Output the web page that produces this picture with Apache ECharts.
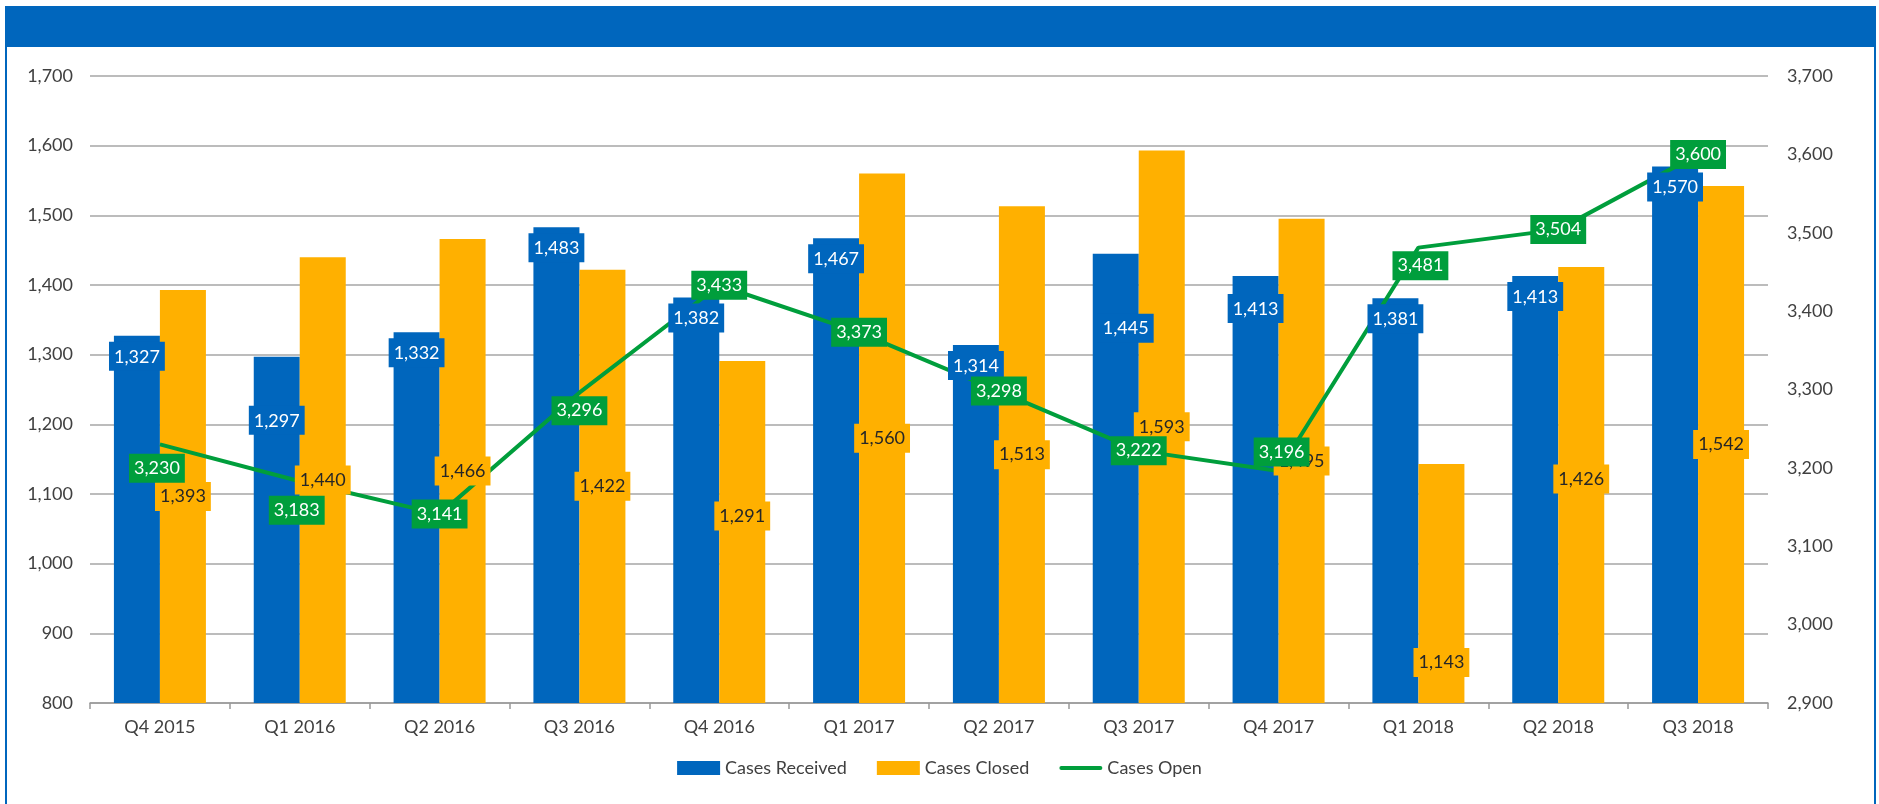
<!DOCTYPE html>
<html>
<head>
<meta charset="utf-8">
<script src="https://cdn.jsdelivr.net/npm/echarts@6/dist/echarts.min.js"></script>
<style>
html,body{margin:0;padding:0;background:#fff;}
#chart{width:1879px;height:804px;}
</style>
</head>
<body>
<div id="chart"></div>
<script>
const categories = ['Q4 2015','Q1 2016','Q2 2016','Q3 2016','Q4 2016','Q1 2017','Q2 2017','Q3 2017','Q4 2017','Q1 2018','Q2 2018','Q3 2018'];
const casesReceived = [1327, 1297, 1332, 1483, 1382, 1467, 1314, 1445, 1413, 1381, 1413, 1570];
const casesClosed = [1393, 1440, 1466, 1422, 1291, 1560, 1513, 1593, 1495, 1143, 1426, 1542];
const casesOpen = [3230, 3183, 3141, 3296, 3433, 3373, 3298, 3222, 3196, 3481, 3504, 3600];
const leftTicks = {min: 800, max: 1700, interval: 100};
const rightTicks = {min: 2900, max: 3700, interval: 100};

// label nudges (pixels) as placed in the original
const receivedShift = {1: [0, 43], 7: [10, 54], 8: [0, 12]};
const closedShift = {4: [0, -16], 9: [0, 79], 10: [0, -6]};
const openShift = {0: [-3, 24], 1: [-3, 29], 3: [0, 18], 8: [3, -19], 9: [2, 18]};

const BLUE = '#0066BD', YELLOW = '#FFB000', GREEN = '#009E3C';
const CLEAR = 'rgba(0,0,0,0)';
const FONT = 'Lato, "Open Sans", sans-serif';
const fmt = v => Number(v).toLocaleString('en-US');

function withShift(values, shifts) {
  return values.map((v, i) => shifts[i] ? {value: v, label: {offset: shifts[i]}} : v);
}

const labelBase = {
  show: true,
  fontFamily: FONT,
  fontSize: 18,
  lineHeight: 18,
  padding: [6, 5, 5, 5],
  formatter: p => fmt(p.value)
};

const chart = echarts.init(document.getElementById('chart'));
chart.setOption({
  animation: false,
  backgroundColor: '#fff',
  textStyle: {fontFamily: FONT},
  graphic: [
    {type: 'rect', shape: {x: 6, y: 6, width: 1870, height: 41}, style: {fill: BLUE}, z: 100},
    {type: 'rect', shape: {x: 5, y: 6, width: 2, height: 798}, style: {fill: BLUE}, z: 100},
    {type: 'rect', shape: {x: 1874, y: 6, width: 2, height: 798}, style: {fill: BLUE}, z: 100}
  ],
  grid: {left: 90, right: 111, top: 76, bottom: 101, containLabel: false},
  legend: {
    bottom: 22,
    left: 'center',
    itemWidth: 43,
    itemHeight: 14,
    itemGap: 30,
    textStyle: {fontFamily: FONT, fontSize: 18, color: '#404040'},
    data: [
      {name: 'Cases Received', icon: 'rect'},
      {name: 'Cases Closed', icon: 'rect'},
      {name: 'Cases Open', icon: 'path://M2,0 L41,0 A2,2 0 0 1 41,4 L2,4 A2,2 0 0 1 2,0 Z'}
    ]
  },
  xAxis: [
    {
      type: 'category',
      data: categories,
      axisLine: {lineStyle: {color: '#999', width: 1.5}},
      axisTick: {show: true, length: 6, lineStyle: {color: '#999', width: 1.5}},
      axisLabel: {color: '#404040', fontSize: 18, margin: 15, fontFamily: FONT}
    },
    {
      type: 'category',
      data: categories,
      show: false
    }
  ],
  yAxis: [
    {
      type: 'value',
      min: leftTicks.min, max: leftTicks.max, interval: leftTicks.interval,
      axisLine: {show: false},
      axisTick: {show: false},
      axisLabel: {color: '#404040', fontSize: 18, margin: 17, fontFamily: FONT, formatter: v => fmt(v)},
      splitLine: {lineStyle: {color: '#a6a6a6', width: 1.5}}
    },
    {
      type: 'value',
      min: rightTicks.min, max: rightTicks.max, interval: rightTicks.interval,
      position: 'right',
      axisLine: {show: false},
      axisTick: {show: false},
      axisLabel: {color: '#404040', fontSize: 18, margin: 19, fontFamily: FONT, formatter: v => fmt(v)},
      splitLine: {show: false}
    }
  ],
  series: [
    {
      name: 'Cases Received',
      type: 'bar',
      barWidth: 46,
      barGap: '0%',
      z: 2,
      itemStyle: {color: BLUE},
      data: casesReceived
    },
    {
      name: 'Cases Closed',
      type: 'bar',
      barWidth: 46,
      barGap: '0%',
      z: 2,
      itemStyle: {color: YELLOW},
      data: casesClosed
    },
    {
      name: 'Cases Open',
      type: 'line',
      yAxisIndex: 1,
      symbol: 'none',
      z: 3,
      itemStyle: {color: GREEN},
      lineStyle: {color: GREEN, width: 4},
      data: casesOpen
    },
    {
      name: 'received-labels',
      type: 'bar',
      xAxisIndex: 1,
      barWidth: 46,
      barGap: '0%',
      z: 4,
      silent: true,
      itemStyle: {color: CLEAR},
      label: Object.assign({}, labelBase, {position: 'insideTop', distance: 6, color: '#fff', backgroundColor: BLUE}),
      data: withShift(casesReceived, receivedShift)
    },
    {
      name: 'closed-labels',
      type: 'bar',
      xAxisIndex: 1,
      barWidth: 46,
      barGap: '0%',
      z: 4,
      silent: true,
      itemStyle: {color: CLEAR},
      label: Object.assign({}, labelBase, {position: 'inside', color: '#262626', backgroundColor: YELLOW}),
      data: withShift(casesClosed, closedShift)
    },
    {
      name: 'open-labels',
      type: 'line',
      yAxisIndex: 1,
      symbol: 'circle',
      symbolSize: 1,
      showSymbol: true,
      z: 5,
      silent: true,
      itemStyle: {color: CLEAR},
      lineStyle: {color: CLEAR, width: 0},
      label: Object.assign({}, labelBase, {position: 'inside', color: '#fff', backgroundColor: GREEN}),
      data: withShift(casesOpen, openShift)
    }
  ]
});
</script>
</body>
</html>
